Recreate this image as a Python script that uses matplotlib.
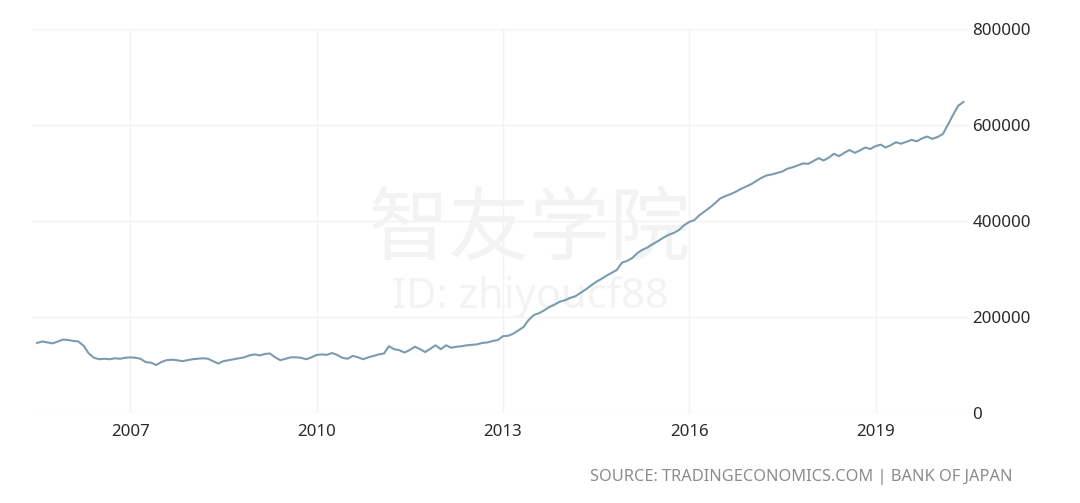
import matplotlib
matplotlib.use("Agg")
from matplotlib import pyplot as plt
import matplotlib.dates as mdates
import pandas as pd

# monthly balance sheet values
y2005 = [146000, 149000, 147000, 145000, 149000, 153000]
y2006 = [152000, 150000, 149000, 140000, 124000, 115000, 112000, 113000, 112000, 114000, 113000, 115000]
y2007 = [116000, 115000, 113000, 106000, 105000, 100000, 106000, 110000, 111000, 110000, 108000, 110000]
y2008 = [112000, 113000, 114000, 113000, 108000, 103000, 108000, 110000, 112000, 114000, 116000, 120000]
y2009 = [122000, 120000, 123000, 124000, 116000, 110000, 113000, 116000, 116000, 115000, 112000, 116000]
y2010 = [121000, 122000, 121000, 125000, 121000, 115000, 113000, 119000, 116000, 112000, 116000, 119000]
y2011 = [122000, 124000, 139000, 133000, 131000, 126000, 131000, 138000, 133000, 127000, 134000, 141000]
y2012 = [133000, 141000, 136000, 138000, 139000, 141000, 142000, 143000, 146000, 147000, 150000, 152000]
y2013 = [160000, 161000, 165000, 172000, 179000, 194000, 204000, 208000, 214000, 221000, 226000, 232000]
y2014 = [235000, 240000, 243000, 250000, 257000, 265000, 273000, 279000, 286000, 292000, 298000, 313000]
y2015 = [317000, 323000, 333000, 340000, 345000, 352000, 358000, 365000, 371000, 375000, 381000, 391000]
y2016 = [398000, 402000, 412000, 420000, 428000, 437000, 447000, 452000, 456000, 461000, 467000, 472000]
y2017 = [477000, 484000, 490000, 495000, 497000, 500000, 503000, 509000, 512000, 516000, 520000, 519000]
y2018 = [525000, 531000, 526000, 532000, 540000, 535000, 542000, 548000, 542000, 547000, 553000, 550000]
y2019 = [556000, 559000, 553000, 558000, 564000, 561000, 565000, 569000, 566000, 572000, 576000, 571000]
y2020 = [575000, 581000, 600000, 621000, 640000, 648000]

values = y2005 + y2006 + y2007 + y2008 + y2009 + y2010 + y2011 + y2012 + y2013 + y2014 + y2015 + y2016 + y2017 + y2018 + y2019 + y2020
dates = pd.date_range("2005-07-01", periods=len(values), freq="MS")

year_ticks = ["2007", "2010", "2013", "2016", "2019"]
value_ticks = [0, 200000, 400000, 600000, 800000]

W, H = 1080, 503
fig = plt.figure(figsize=(W / 100, H / 100), dpi=100)
ax = fig.add_axes([32 / W, 1 - 413 / H, (968 - 32) / W, (413 - 29) / H])
ax.patch.set_alpha(0)

ax.plot(dates, values, color="#7a9cae", linewidth=1.5, zorder=3)

ax.set_xlim(pd.Timestamp("2005-06-01"), pd.Timestamp("2020-06-28"))
ax.set_ylim(0, 800000)
ax.set_xticks([pd.Timestamp(y + "-01-01") for y in year_ticks])
ax.xaxis.set_major_formatter(mdates.DateFormatter("%Y"))
ax.set_yticks(value_ticks)
ax.yaxis.tick_right()
ax.tick_params(axis="both", length=0, labelsize=12.2, labelcolor="#2b2b2b")
ax.tick_params(axis="x", pad=8)
ax.tick_params(axis="y", pad=3)
for label in ax.get_xticklabels() + ax.get_yticklabels():
    label.set_family("Noto Sans")

ax.grid(True, color="#f3f3f3", linewidth=1)
ax.set_axisbelow(True)
for spine in ax.spines.values():
    spine.set_visible(False)

# watermark sits behind the axes
fig.text(530 / W, 1 - 230 / H, "智友学院", family=["Noto Sans CJK SC", "DejaVu Sans"], fontsize=58,
         color="#f3f3f3", ha="center", va="center", zorder=-1)
fig.text(530 / W, 1 - 297 / H, "ID: zhiyoucf88", family="Noto Sans", fontsize=30,
         color="#f3f3f3", ha="center", va="center", zorder=-1)

fig.text(1013 / W, 1 - 477 / H, "SOURCE: TRADINGECONOMICS.COM | BANK OF JAPAN", family="Noto Sans",
         fontsize=11.8, color="#8c8c8c", ha="right", va="center")

fig.savefig("out.png", dpi=100)
